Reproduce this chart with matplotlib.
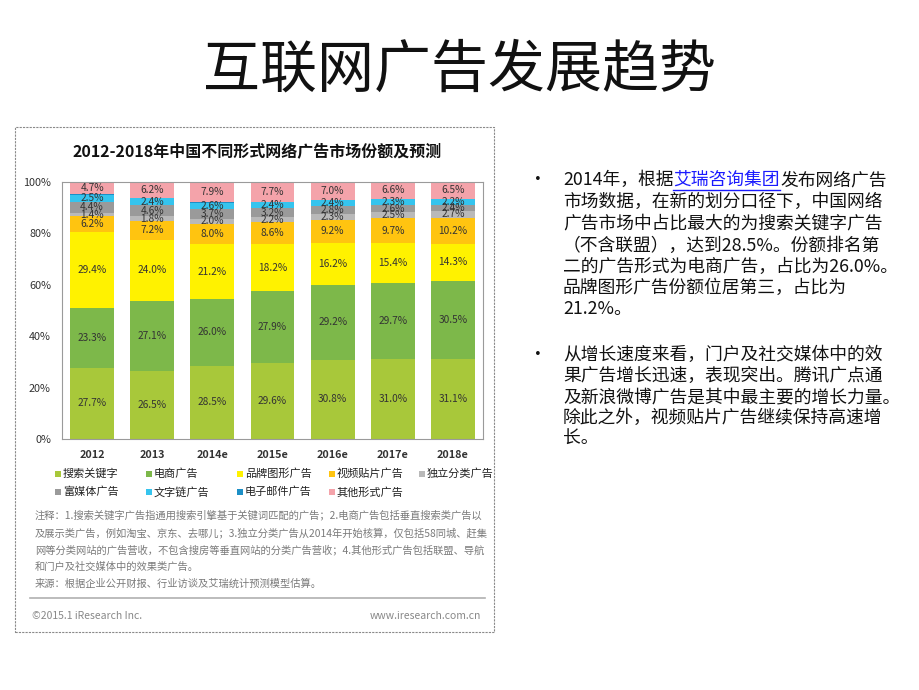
import matplotlib
matplotlib.use("Agg")
import matplotlib.pyplot as plt
from matplotlib.patches import Rectangle
import numpy as np

plt.rcParams['font.family'] = ['Noto Sans CJK SC', 'DejaVu Sans']

years = ["2012", "2013", "2014e", "2015e", "2016e", "2017e", "2018e"]
series_names = ["搜索关键字", "电商广告", "品牌图形广告", "视频贴片广告", "独立分类广告",
                "富媒体广告", "文字链广告", "电子邮件广告", "其他形式广告"]
search_kw = [27.7, 26.5, 28.5, 29.6, 30.8, 31.0, 31.1]
ecommerce = [23.3, 27.1, 26.0, 27.9, 29.2, 29.7, 30.5]
brand = [29.4, 24.0, 21.2, 18.2, 16.2, 15.4, 14.3]
video = [6.2, 7.2, 8.0, 8.6, 9.2, 9.7, 10.2]
classified = [1.4, 1.8, 2.0, 2.2, 2.3, 2.5, 2.7]
rich_media = [4.4, 4.6, 3.7, 3.2, 2.8, 2.6, 2.4]
text_link = [2.5, 2.4, 2.6, 2.4, 2.4, 2.3, 2.2]
email = [0.4, 0.2, 0.1, 0.2, 0.1, 0.2, 0.1]
other = [4.7, 6.2, 7.9, 7.7, 7.0, 6.6, 6.5]
yticks = [0, 20, 40, 60, 80, 100]

data = [search_kw, ecommerce, brand, video, classified, rich_media, text_link, email, other]
colors = ["#A8C83A", "#7DB84A", "#FFF200", "#FFC410", "#B9B9B9",
          "#9A9A9A", "#35C4EE", "#1C8FC6", "#F4A3AA"]
show_label = [True, True, True, True, True, True, True, False, True]

W, H = 920, 690
fig = plt.figure(figsize=(9.2, 6.9), dpi=100)
fig.patch.set_facecolor("white")

def fx(x):
    return x / W

def fy(y):
    return 1 - y / H

# Slide title
fig.text(fx(460), fy(70), "互联网广告发展趋势", fontsize=41, ha="center", va="center", color="#111111")

# Image panel border
fig.patches.append(Rectangle((fx(15), fy(632)), fx(494) - fx(15), fy(127) - fy(632),
                             transform=fig.transFigure, fill=False, edgecolor="#8a8a8a",
                             linewidth=0.8, linestyle=(0, (2, 1))))

# Chart title
fig.text(fx(257), fy(152), "2012-2018年中国不同形式网络广告市场份额及预测", fontsize=11.5,
         fontweight="bold", ha="center", va="center", color="#111111")

ax = fig.add_axes([fx(62), fy(439), fx(483) - fx(62), fy(182) - fy(439)])
x = np.arange(len(years))
bottom = np.zeros(len(years))
for vals, col, lab in zip(data, colors, show_label):
    v = np.array(vals)
    ax.bar(x, v, width=0.73, bottom=bottom, color=col, edgecolor="none")
    if lab:
        for xi, b, vi in zip(x, bottom, v):
            ax.text(xi, b + vi / 2, f"{vi:.1f}%", ha="center", va="center",
                    fontsize=7.3, color="#333333")
    bottom = bottom + v

ax.set_xlim(-0.5, len(years) - 0.5)
ax.set_ylim(0, 100)
ax.set_yticks(yticks)
ax.set_yticklabels([f"{t}%" for t in yticks], fontsize=7.8, color="#333333")
ax.set_xticks(x)
ax.set_xticklabels(years, fontsize=7.8, fontweight="bold", color="#333333")
ax.tick_params(axis="both", length=0, pad=8)
for s in ax.spines.values():
    s.set_color("#9a9a9a")
    s.set_linewidth(0.8)

# Legend
leg_x = [58, 149, 240, 332, 422]
leg_y = [474, 492]
for i, (name, col) in enumerate(zip(series_names, colors)):
    r, c = divmod(i, 5)
    px, py = leg_x[c], leg_y[r]
    fig.patches.append(Rectangle((fx(px - 3), fy(py + 3)), 6 / W, 6 / H,
                                 transform=fig.transFigure, facecolor=col, edgecolor="none"))
    fig.text(fx(px + 5), fy(py), name, fontsize=8, ha="left", va="center", color="#222222")

# Notes
notes = [
    "注释：1.搜索关键字广告指通用搜索引擎基于关键词匹配的广告；2.电商广告包括垂直搜索类广告以",
    "及展示类广告，例如淘宝、京东、去哪儿；3.独立分类广告从2014年开始核算，仅包括58同城、赶集",
    "网等分类网站的广告营收，不包含搜房等垂直网站的分类广告营收；4.其他形式广告包括联盟、导航",
    "和门户及社交媒体中的效果类广告。",
    "来源：根据企业公开财报、行业访谈及艾瑞统计预测模型估算。",
]
note_y = [515, 533, 550, 567, 584]
for t, yy in zip(notes, note_y):
    fig.text(fx(35), fy(yy), t, fontsize=7.4, ha="left", va="center", color="#7a7a7a")

fig.lines.append(plt.Line2D([fx(30), fx(485)], [fy(598), fy(598)], transform=fig.transFigure,
                            color="#b0b0b0", linewidth=1.2))
fig.text(fx(32), fy(616), "©2015.1 iResearch Inc.", fontsize=7.5, ha="left", va="center", color="#888888")
fig.text(fx(481), fy(616), "www.iresearch.com.cn", fontsize=7.5, ha="right", va="center", color="#888888")

# Right-side text
fs = 12.8
bullet1 = [
    "2014年，根据", "市场数据，在新的划分口径下，中国网络",
    "广告市场中占比最大的为搜索关键字广告",
    "（不含联盟），达到28.5%。份额排名第",
    "二的广告形式为电商广告，占比为26.0%。",
    "品牌图形广告份额位居第三，占比为",
    "21.2%。",
]
b1_y = [180, 202, 224, 246, 267, 288, 309]
bullet2 = [
    "从增长速度来看，门户及社交媒体中的效",
    "果广告增长迅速，表现突出。腾讯广点通",
    "及新浪微博广告是其中最主要的增长力量。",
    "除此之外，视频贴片广告继续保持高速增",
    "长。",
]
b2_y = [355, 376, 397, 418, 438]
tx = fx(563)
fig.text(fx(538), fy(b1_y[0]), "•", fontsize=fs, ha="center", va="center", color="#111111")
fig.text(fx(538), fy(b2_y[0]), "•", fontsize=fs, ha="center", va="center", color="#111111")

# first line with link segment
renderer = fig.canvas.get_renderer()
t1 = fig.text(tx, fy(b1_y[0]), bullet1[0], fontsize=fs, ha="left", va="center", color="#111111")
bb = t1.get_window_extent(renderer=renderer)
x2 = bb.x1 / fig.bbox.width
t2 = fig.text(x2, fy(b1_y[0]), "艾瑞咨询集团", fontsize=fs, ha="left", va="center", color="#1a1aff")
bb2 = t2.get_window_extent(renderer=renderer)
x3 = bb2.x1 / fig.bbox.width
fig.lines.append(plt.Line2D([x2, x3], [fy(b1_y[0] + 10), fy(b1_y[0] + 10)], transform=fig.transFigure,
                            color="#1a1aff", linewidth=1))
fig.text(x3, fy(b1_y[0]), "发布网络广告", fontsize=fs, ha="left", va="center", color="#111111")
for t, yy in zip(bullet1[1:], b1_y[1:]):
    fig.text(tx, fy(yy), t, fontsize=fs, ha="left", va="center", color="#111111")
for t, yy in zip(bullet2, b2_y):
    fig.text(tx, fy(yy), t, fontsize=fs, ha="left", va="center", color="#111111")

fig.savefig("out.png", dpi=100)
